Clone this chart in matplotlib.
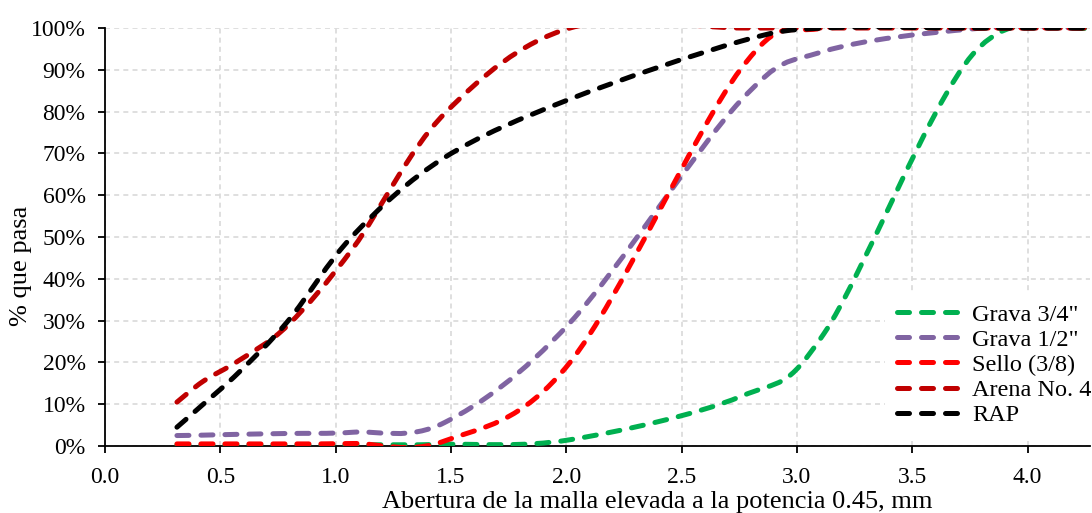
import numpy as np
import matplotlib
matplotlib.use("Agg")
import matplotlib.pyplot as plt
from matplotlib.path import Path
from matplotlib.patches import PathPatch
from matplotlib.ticker import PercentFormatter

plt.rcParams['font.family'] = ['Liberation Serif', 'DejaVu Serif']

# tamices (mm) y % que pasa de cada material
sieves_mm = [0.075, 0.15, 0.3, 0.6, 1.18, 2.36, 4.75, 9.5, 12.5, 19.0, 25.0]
grava34 = [0.3, 0.3, 0.3, 0.3, 0.3, 0.4, 1.5, 11.8, 26.8, 93.7, 100]
grava12 = [2.5, 2.6, 2.8, 3.0, 3.3, 5.6, 29.5, 82.5, 94.4, 99.8, 100]
sello = [0.5, 0.5, 0.5, 0.5, 0.6, 1.2, 20.0, 90.0, 100, 100, 100]
arena4 = [10.5, 15.5, 20.5, 29.0, 47.5, 79.5, 100, 100, 100, 100, 100]
rap = [4.5, 10.0, 17.7, 30.0, 50.5, 69.0, 83.0, 96.8, 100, 100, 100]

labels = ['Grava 3/4"', 'Grava 1/2"', 'Sello (3/8)', 'Arena No. 4', 'RAP']
colors = ['#00B050', '#8064A2', '#FF0000', '#C00000', '#000000']
series = [grava34, grava12, sello, arena4, rap]

x = np.array(sieves_mm) ** 0.45

LW = 3.6
DASH = (2.4, 2.4)


def smooth_path(xs, ys):
    # curva suavizada tipo Excel (bezier con tangentes de Catmull-Rom)
    p = np.column_stack([xs, ys]).astype(float)
    n = len(p)
    verts = [p[0]]
    codes = [Path.MOVETO]
    for i in range(n - 1):
        p0 = p[i - 1] if i > 0 else p[i]
        p3 = p[i + 2] if i + 2 < n else p[i + 1]
        c1 = p[i] + (p[i + 1] - p0) / 6.0
        c2 = p[i + 1] - (p3 - p[i]) / 6.0
        verts += [c1, c2, p[i + 1]]
        codes += [Path.CURVE4] * 3
    return Path(verts, codes)


fig = plt.figure(figsize=(10.92, 5.13), dpi=100)
ax = fig.add_axes([0.0962, 0.1306, 0.9018, 0.8148])

for ys, c, lab in zip(series, colors, labels):
    patch = PathPatch(smooth_path(x, ys), fill=False, edgecolor=c, lw=LW,
                      linestyle=(0, DASH), capstyle='round', zorder=3)
    ax.add_patch(patch)
    ax.plot([], [], color=c, lw=LW, linestyle=(0, DASH),
            dash_capstyle='round', label=lab)

ax.set_xlim(0, 4.27)
ax.set_ylim(0, 100)
ax.set_xticks(np.arange(0, 4.01, 0.5))
ax.set_xticklabels([f'{v:.1f}' for v in np.arange(0, 4.01, 0.5)])
ax.set_yticks(np.arange(0, 101, 10))
ax.yaxis.set_major_formatter(PercentFormatter(decimals=0))

ax.grid(True, color='#D9D9D9', linestyle=(0, (3, 2.5)), linewidth=1.2, zorder=0)
ax.set_axisbelow(True)

for s in ['top', 'right']:
    ax.spines[s].set_visible(False)
for s in ['left', 'bottom']:
    ax.spines[s].set_linewidth(1.3)
ax.tick_params(axis='both', direction='out', length=5, width=1.3,
               labelsize=17, colors='black')
ax.tick_params(axis='x', pad=10)
ax.tick_params(axis='y', pad=9)

ax.set_xlabel('Abertura de la malla elevada a la potencia 0.45, mm', fontsize=19)
ax.xaxis.set_label_coords(0.561, -0.108)
ax.set_ylabel('% que pasa', fontsize=19)
ax.yaxis.set_label_coords(-0.074, 0.43)

leg = ax.legend(loc='upper left', bbox_to_anchor=(0.792, 0.37), fontsize=17.5,
                frameon=True, fancybox=False, handlelength=2.6,
                labelspacing=0.13, handletextpad=0.5, borderpad=0.5,
                borderaxespad=0.0)
leg.get_frame().set_facecolor('white')
leg.get_frame().set_edgecolor('none')
leg.get_frame().set_alpha(1.0)
leg.set_zorder(5)

fig.savefig('out.png', dpi=100)
